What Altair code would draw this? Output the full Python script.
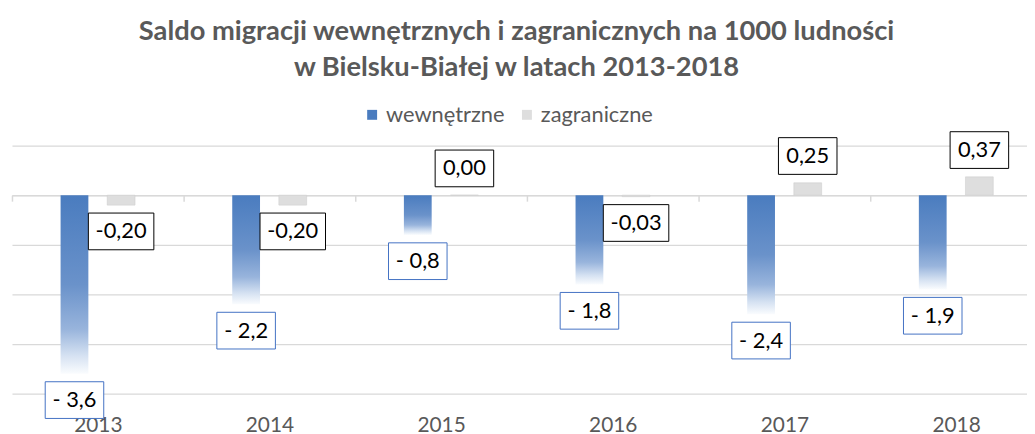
import altair as alt
import pandas as pd

years = ["2013", "2014", "2015", "2016", "2017", "2018"]
series = ["wewnętrzne", "zagraniczne"]
wewnetrzne = [-3.6, -2.2, -0.8, -1.8, -2.4, -1.9]
zagraniczne = [-0.20, -0.20, 0.00, -0.03, 0.25, 0.37]
title_lines = ["Saldo migracji wewnętrznych i zagranicznych na 1000 ludności",
               "w Bielsku-Białej w latach 2013-2018"]
y_ticks = [-4, -3, -2, -1, 0, 1]

rows = []
for yr, w, z in zip(years, wewnetrzne, zagraniczne):
    rows.append({"rok": yr, "seria": series[0], "v": w,
                 "label": "- " + f"{abs(w):.1f}".replace(".", ",")})
    rows.append({"rok": yr, "seria": series[1], "v": z,
                 "label": f"{z:.2f}".replace(".", ",")})
df = pd.DataFrame(rows)

FONT = "Lato"
TXT = "#595959"
BLUE = "#4a7cbf"
GRID = "#d9d9d9"

grad = alt.Gradient(
    gradient="linear", x1=0, y1=0, x2=0, y2=1,
    stops=[
        alt.GradientStop(offset=0, color="#4a7cbf"),
        alt.GradientStop(offset=0.5, color="#6a92ca"),
        alt.GradientStop(offset=0.75, color="#98b4dc"),
        alt.GradientStop(offset=0.9, color="#d6e2f2"),
        alt.GradientStop(offset=1, color="#fafcfe"),
    ],
)

x_enc = alt.X(
    "rok:N", sort=years,
    scale=alt.Scale(range=[0, 1038], paddingInner=0, paddingOuter=0),
    axis=alt.Axis(title=None, orient="bottom", offset=-200, labelAngle=0,
                  domain=True, domainColor=GRID, domainWidth=1.5,
                  ticks=True, tickBand="extent", tickSize=6, tickColor=GRID, tickWidth=1.5,
                  labelPadding=215, labelFont=FONT, labelFontSize=21, labelColor=TXT,
                  grid=False),
)
xo_enc = alt.XOffset("seria:N",
                     scale=alt.Scale(domain=series, paddingInner=0.319, paddingOuter=1))
y_enc = alt.Y("v:Q",
              scale=alt.Scale(domain=[-4, 1], nice=False, zero=False),
              axis=alt.Axis(values=y_ticks, labels=False, ticks=False, domain=False,
                            grid=True, gridColor=GRID, gridWidth=1.2, title=None))

base = alt.Chart(df).encode(x=x_enc, xOffset=xo_enc, y=y_enc)

blue_bars = base.transform_filter(alt.datum.seria == series[0]).mark_bar(
    fill=grad, strokeWidth=0, width=28)

gray_bars = base.transform_filter(alt.datum.seria == series[1]).mark_bar(
    stroke="#cfcfcf", strokeWidth=0.6, width=28
).encode(
    color=alt.Color("seria:N",
                    scale=alt.Scale(domain=series, range=[BLUE, "#dedede"]),
                    legend=alt.Legend(title=None, orient="none", legendX=352, legendY=-42,
                                      direction="horizontal", symbolType="square",
                                      symbolSize=100, symbolStrokeWidth=0,
                                      labelFont=FONT, labelFontSize=22, labelColor=TXT,
                                      columnPadding=11, labelOffset=3))
)

P59 = "M-1,-0.627H1V0.627H-1Z"
P66 = "M-1,-0.5606H1V0.5606H-1Z"

blue_lab = base.transform_filter(alt.datum.seria == series[0])
box_a = blue_lab.mark_point(shape=P59, size=59 * 59, filled=True, fill="white",
                            stroke="#4472c4", strokeWidth=1, opacity=1, yOffset=26.5)
txt_a = blue_lab.mark_text(font=FONT, fontSize=22, color="black", dy=26.5,
                           baseline="middle").encode(text="label:N")

neg_lab = base.transform_filter((alt.datum.seria == series[1]) & (alt.datum.v < 0))
box_b = neg_lab.mark_point(shape=P66, size=66 * 66, filled=True, fill="white",
                           stroke="black", strokeWidth=1, opacity=1, yOffset=26.5)
txt_b = neg_lab.mark_text(font=FONT, fontSize=22, color="black", dy=26.5,
                          baseline="middle").encode(text="label:N")

pos_lab = base.transform_filter((alt.datum.seria == series[1]) & (alt.datum.v >= 0))
box_c = pos_lab.mark_point(shape=P59, size=59 * 59, filled=True, fill="white",
                           stroke="black", strokeWidth=1, opacity=1, yOffset=-27)
txt_c = pos_lab.mark_text(font=FONT, fontSize=22, color="black", dy=-27,
                          baseline="middle").encode(text="label:N")

chart = alt.layer(
    blue_bars, gray_bars, box_a, txt_a, box_b, txt_b, box_c, txt_c
).properties(
    width=1023, height=250,
    autosize=alt.AutoSizeParams(type="none"),
    padding={"left": 4, "top": 137, "right": 0, "bottom": 39},
    title=alt.TitleParams(text=title_lines, font=FONT, fontSize=27.5, fontWeight="bold",
                          color=TXT, anchor="middle", lineHeight=36, offset=23, dx=-3),
).configure_view(stroke=None)

chart.save("out.html", embed_options={"renderer": "svg", "actions": False})
